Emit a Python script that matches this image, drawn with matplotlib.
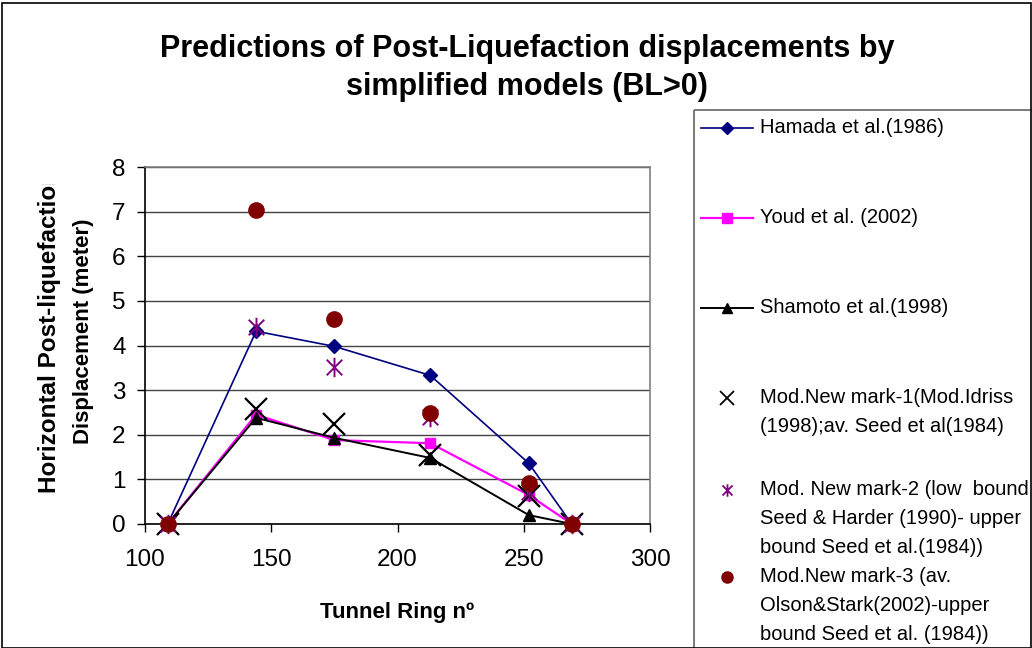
import numpy as np
import matplotlib
matplotlib.use('Agg')
import matplotlib.pyplot as plt
from matplotlib.path import Path
from matplotlib.patches import Rectangle
from matplotlib.lines import Line2D

plt.rcParams['font.family'] = ['Liberation Sans', 'DejaVu Sans']

# tunnel rings and predicted displacements (m)
rings = [109, 144, 175, 213, 252, 269]
hamada = [0, 4.32, 3.98, 3.33, 1.36, 0]
youd = [0, 2.45, 1.88, 1.81, 0.65, 0]
shamoto = [0, 2.38, 1.93, 1.48, 0.2, 0]
newmark1 = [0, 2.57, 2.25, 1.55, 0.63, 0]
newmark2 = [0, 4.42, 3.51, 2.39, 0.72, 0]
newmark3 = [0, 7.03, 4.6, 2.48, 0.91, 0]

labels = ['Hamada et al.(1986)',
          'Youd et al. (2002)',
          'Shamoto et al.(1998)',
          'Mod.New mark-1(Mod.Idriss\n(1998);av. Seed et al(1984)',
          'Mod. New mark-2 (low  bound\nSeed & Harder (1990)- upper\nbound Seed et al.(1984))',
          'Mod.New mark-3 (av.\nOlson&Stark(2002)-upper\nbound Seed et al. (1984))']

# excel-like star: X with a vertical bar
star = Path([(-1, -1), (1, 1), (-1, 1), (1, -1), (0, -1.25), (0, 1.25)],
            [Path.MOVETO, Path.LINETO, Path.MOVETO, Path.LINETO, Path.MOVETO, Path.LINETO])

W, H = 1032, 648
fig = plt.figure(figsize=(W / 100, H / 100), dpi=100)
fig.patch.set_facecolor('white')
fig.patches.append(Rectangle((1.5 / W, 0), 1 - 3 / W, 1 - 2.5 / H, transform=fig.transFigure,
                             fill=False, edgecolor='black', linewidth=1.2))

ax = fig.add_axes([145 / W, 1 - 524 / H, (650 - 145) / W, (524 - 167) / H])
ax.set_xlim(100, 300)
ax.set_ylim(0, 8)
ax.set_xticks([100, 150, 200, 250, 300])
ax.set_yticks(range(0, 9))
ax.grid(axis='y', color='#444444', linewidth=1.0)
ax.set_axisbelow(True)
for s in ['top', 'right']:
    ax.spines[s].set_color('#808080')
    ax.spines[s].set_linewidth(1.2)
for s in ['left', 'bottom']:
    ax.spines[s].set_color('black')
    ax.spines[s].set_linewidth(1.2)
ax.tick_params(axis='both', direction='out', length=6, width=1, labelsize=17.5, colors='black')
ax.tick_params(axis='x', pad=12)
ax.tick_params(axis='y', pad=8)

ax.plot(rings, hamada, color='#000080', lw=1.2, marker='D', ms=7, clip_on=False, zorder=3)
ax.plot(rings, youd, color='#FF00FF', lw=1.6, marker='s', ms=7.5, clip_on=False, zorder=3)
ax.plot(rings, shamoto, color='black', lw=1.4, marker='^', ms=8.5, clip_on=False, zorder=3)
ax.plot(rings, newmark1, ls='none', marker='x', color='black', ms=16, mew=1.6, clip_on=False, zorder=4)
ax.plot(rings, newmark2, ls='none', marker=star, color='#800080', mfc='none', ms=14, mew=1.4,
        clip_on=False, zorder=4)
ax.plot(rings, newmark3, ls='none', marker='o', color='#800000', ms=11, clip_on=False, zorder=5)

ax.set_xlabel('Tunnel Ring nº', fontsize=16, fontweight='bold', labelpad=22)

# y axis title, first line runs past the top of its box and gets cut
yl1 = fig.text(50 / W, 1 - 331 / H, 'Horizontal Post-liquefaction', rotation=90,
               ha='center', va='center', fontsize=17.5, fontweight='bold')
yl1.set_clip_path(Rectangle((0, 0), 1, 1 - 184 / H, transform=fig.transFigure))
fig.text(83 / W, 1 - 331 / H, 'Displacement (meter)', rotation=90,
         ha='center', va='center', fontsize=16, fontweight='bold')

fig.text(527 / W, 1 - 68 / H, 'Predictions of Post-Liquefaction displacements by\nsimplified models (BL>0)',
         ha='center', va='center', fontsize=22, fontweight='bold', linespacing=1.38)

# legend panel in pixel units
lg = fig.add_axes([693 / W, 0, (W - 693) / W, (H - 109) / H])
lg.set_xlim(693, W)
lg.set_ylim(H, 109)
lg.axis('off')
lg.add_patch(Rectangle((693.5, 109.5), W, H, fill=False, edgecolor='#707070', linewidth=1.3))

handles = [dict(color='#000080', lw=1.2, marker='D', ms=6.5),
           dict(color='#FF00FF', lw=1.6, marker='s', ms=7.5),
           dict(color='black', lw=1.4, marker='^', ms=7.5),
           dict(color='black', ls='none', marker='x', ms=9.5, mew=1.3),
           dict(color='#800080', ls='none', marker=star, mfc='none', ms=9, mew=1.3),
           dict(color='#800000', ls='none', marker='o', ms=8)]
rows = [128, 218, 308, 398, 490, 577]
for y, h, lab in zip(rows, handles, labels):
    lg.add_line(Line2D([701, 727, 753], [y, y, y], markevery=[1], **h))
    lg.text(760, y - 10, lab, ha='left', va='top', fontsize=14.5, linespacing=1.68)

fig.savefig('out.png', dpi=100)
